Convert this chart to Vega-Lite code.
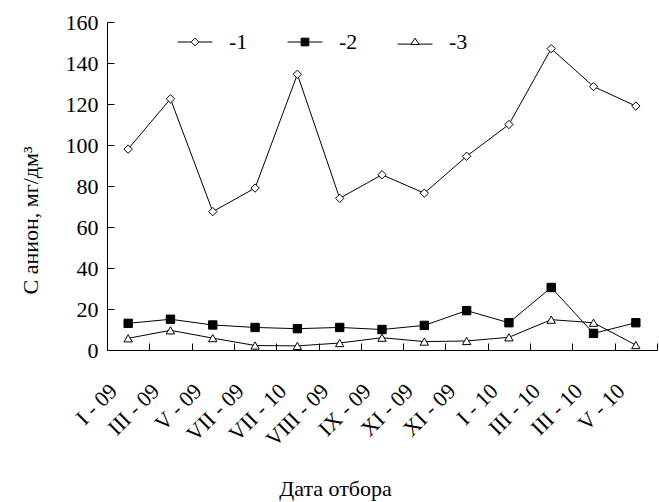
{
  "$schema": "https://vega.github.io/schema/vega-lite/v6.json",
  "width": 550,
  "height": 328,
  "autosize": {"type": "none"},
  "padding": {"left": 107, "top": 22, "right": 2, "bottom": 152},
  "background": "white",
  "config": {
    "view": {"stroke": null},
    "font": "Liberation Serif",
    "text": {"font": "Liberation Serif"},
    "axis": {
      "grid": false,
      "domainColor": "black",
      "domainWidth": 1,
      "tickColor": "black",
      "tickWidth": 1,
      "tickSize": -7,
      "labelColor": "black",
      "labelFont": "Liberation Serif",
      "labelFontSize": 22,
      "titleFont": "Liberation Serif",
      "titleFontSize": 22,
      "titleFontWeight": "normal",
      "titleColor": "black"
    },
    "legend": {
      "labelFont": "Liberation Serif",
      "labelFontSize": 22,
      "labelColor": "black",
      "padding": 0
    }
  },
  "data": {
    "values": [
      {"i": 0, "s": "-1", "v": 98}, {"i": 1, "s": "-1", "v": 122.5}, {"i": 2, "s": "-1", "v": 67.5}, {"i": 3, "s": "-1", "v": 79}, {"i": 4, "s": "-1", "v": 134.5}, {"i": 5, "s": "-1", "v": 74}, {"i": 6, "s": "-1", "v": 85.5}, {"i": 7, "s": "-1", "v": 76.5}, {"i": 8, "s": "-1", "v": 94.5}, {"i": 9, "s": "-1", "v": 110}, {"i": 10, "s": "-1", "v": 147}, {"i": 11, "s": "-1", "v": 128.5}, {"i": 12, "s": "-1", "v": 119},
      {"i": 0, "s": "-2", "v": 13}, {"i": 1, "s": "-2", "v": 15}, {"i": 2, "s": "-2", "v": 12.2}, {"i": 3, "s": "-2", "v": 11}, {"i": 4, "s": "-2", "v": 10.4}, {"i": 5, "s": "-2", "v": 11}, {"i": 6, "s": "-2", "v": 10}, {"i": 7, "s": "-2", "v": 12}, {"i": 8, "s": "-2", "v": 19.2}, {"i": 9, "s": "-2", "v": 13.3}, {"i": 10, "s": "-2", "v": 30.5}, {"i": 11, "s": "-2", "v": 8.1}, {"i": 12, "s": "-2", "v": 13.3},
      {"i": 0, "s": "-3", "v": 5.7}, {"i": 1, "s": "-3", "v": 9.6}, {"i": 2, "s": "-3", "v": 5.8}, {"i": 3, "s": "-3", "v": 2.2}, {"i": 4, "s": "-3", "v": 2}, {"i": 5, "s": "-3", "v": 3.4}, {"i": 6, "s": "-3", "v": 6}, {"i": 7, "s": "-3", "v": 4.1}, {"i": 8, "s": "-3", "v": 4.4}, {"i": 9, "s": "-3", "v": 6.2}, {"i": 10, "s": "-3", "v": 14.8}, {"i": 11, "s": "-3", "v": 13.3}, {"i": 12, "s": "-3", "v": 2.4}
    ]
  },
  "encoding": {
    "x": {
      "field": "i",
      "type": "quantitative",
      "scale": {"domain": [-0.5, 12.5], "nice": false, "zero": false},
      "axis": {
        "values": [-0.5, 0.5, 1.5, 2.5, 3.5, 4.5, 5.5, 6.5, 7.5, 8.5, 9.5, 10.5, 11.5, 12.5],
        "labelExpr": "['I - 09','III - 09','V - 09','VII - 09','VII - 10','VIII - 09','IX - 09','XI - 09','XI - 09','I - 10','III - 10','III - 10','V - 10',''][datum.value + 0.5]",
        "labelFont": "Liberation Serif",
        "labelAngle": -45,
        "labelAlign": "right",
        "labelBaseline": "middle",
        "labelOffset": 6,
        "labelPadding": 44,
        "labelOverlap": false,
        "labelBound": false,
        "labelFlush": false,
        "title": "Дата отбора",
        "titleFont": "Liberation Serif",
        "titleX": 228,
        "titleY": 138,
        "titleBaseline": "middle"
      }
    },
    "y": {
      "field": "v",
      "type": "quantitative",
      "scale": {"domain": [0, 160], "nice": false},
      "axis": {
        "values": [0, 20, 40, 60, 80, 100, 120, 140, 160],
        "labelFont": "Liberation Serif",
        "labelPadding": 16,
        "title": "С анион, мг/дм³",
        "titleFont": "Liberation Serif",
        "titleX": -77,
        "titleY": 198,
        "titleBaseline": "middle"
      }
    }
  },
  "layer": [
    {
      "mark": {"type": "line", "color": "black", "strokeWidth": 1},
      "encoding": {"detail": {"field": "s"}}
    },
    {
      "mark": {"type": "point", "filled": false, "stroke": "black", "strokeWidth": 1, "opacity": 1},
      "encoding": {
        "shape": {
          "field": "s",
          "type": "nominal",
          "scale": {"domain": ["-1", "-2", "-3"], "range": ["diamond", "square", "triangle-up"]},
          "legend": null
        },
        "fill": {
          "field": "s",
          "type": "nominal",
          "scale": {"domain": ["-1", "-2", "-3"], "range": ["white", "black", "white"]},
          "legend": null
        },
        "size": {"value": 70}
      }
    },
    {
      "mark": {"type": "point", "filled": true, "strokeWidth": 1, "opacity": 1, "size": 0},
      "encoding": {
        "shape": {
          "field": "s",
          "type": "nominal",
          "scale": {"domain": ["-1", "-2", "-3"], "range": ["M-2.5,0H-0.55M0.55,0H2.5M0,-0.55L0.55,0L0,0.55L-0.55,0Z", "M-2.5,0H-0.55M0.55,0H2.5M-0.55,-0.55H0.55V0.55H-0.55Z", "M-2.5,0.3H-0.6M0.6,0.3H2.5M0,-0.55L0.6,0.35L-0.6,0.35Z"]},
          "legend": {
            "title": null,
            "orient": "none",
            "direction": "horizontal",
            "legendX": 77,
            "legendY": 9,
            "symbolSize": 196,
            "symbolOffset": 0,
            "symbolStrokeWidth": 1,
            "symbolOpacity": 1,
            "columnPadding": 37,
            "labelOffset": 23
          }
        },
        "fill": {
          "field": "s",
          "type": "nominal",
          "scale": {"domain": ["-1", "-2", "-3"], "range": ["white", "black", "white"]},
          "legend": {
            "title": null,
            "orient": "none",
            "direction": "horizontal",
            "legendX": 77,
            "legendY": 9,
            "symbolSize": 196,
            "symbolOffset": 0,
            "symbolStrokeWidth": 1,
            "symbolOpacity": 1,
            "columnPadding": 37,
            "labelOffset": 23
          }
        },
        "stroke": {
          "field": "s",
          "type": "nominal",
          "scale": {"domain": ["-1", "-2", "-3"], "range": ["black", "black", "black"]},
          "legend": {
            "title": null,
            "orient": "none",
            "direction": "horizontal",
            "legendX": 77,
            "legendY": 9,
            "symbolSize": 196,
            "symbolOffset": 0,
            "symbolStrokeWidth": 1,
            "symbolOpacity": 1,
            "columnPadding": 37,
            "labelOffset": 23
          }
        }
      }
    }
  ],
  "resolve": {
    "scale": {"shape": "independent", "fill": "independent", "stroke": "independent"},
    "legend": {"shape": "independent", "fill": "independent", "stroke": "independent"}
  }
}
